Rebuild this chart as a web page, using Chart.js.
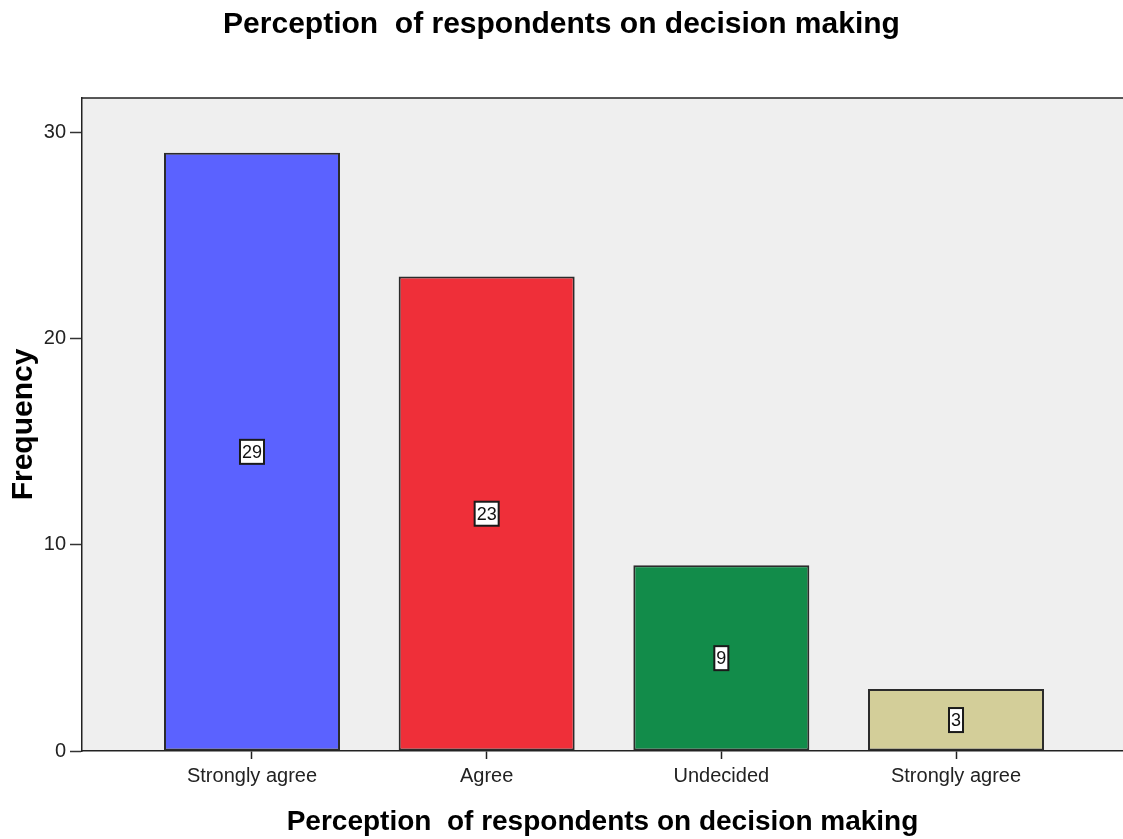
<!DOCTYPE html>
<html>
<head>
<meta charset="utf-8">
<script src="https://cdn.jsdelivr.net/npm/chart.js@4"></script>
<style>
  html, body { margin: 0; padding: 0; background: #ffffff; overflow: hidden; }
  #wrap { width: 1123px; height: 839px; position: relative; }
</style>
</head>
<body>
<div id="wrap"><canvas id="chart" width="1123" height="839"></canvas></div>
<script>
// Responses per perception category
const categories = ["Strongly agree", "Agree", "Undecided", "Strongly agree"];
const frequencies = [29, 23, 9, 3];
const barColors = ["#5b62ff", "#ef2f39", "#128c4a", "#d3ce99"];
const yTicks = [0, 10, 20, 30];

const FONT = "'Liberation Sans', Arial, sans-serif";

// Grey plotting panel with a frame line along the top
const panelPlugin = {
  id: "panel",
  beforeDraw(chart) {
    const { ctx, chartArea: a } = chart;
    ctx.save();
    ctx.fillStyle = "#efefef";
    ctx.fillRect(a.left, a.top, a.right - a.left, a.bottom - a.top);
    ctx.strokeStyle = "#222";
    ctx.lineWidth = 1.5;
    ctx.beginPath();
    ctx.moveTo(a.left, a.top);
    ctx.lineTo(a.right, a.top);
    ctx.stroke();
    ctx.restore();
  }
};

// Boxed count labels in the middle of each bar
const countLabels = {
  id: "countLabels",
  afterDatasetsDraw(chart) {
    const { ctx } = chart;
    const meta = chart.getDatasetMeta(0);
    const yScale = chart.scales.y;
    ctx.save();
    ctx.font = "18px " + FONT;
    ctx.textAlign = "center";
    ctx.textBaseline = "middle";
    meta.data.forEach((bar, i) => {
      const v = frequencies[i];
      const text = String(v);
      const cx = bar.x;
      const cy = yScale.getPixelForValue(v / 2);
      const w = ctx.measureText(text).width + 4;
      const h = 24;
      ctx.fillStyle = "#ffffff";
      ctx.fillRect(cx - w / 2, cy - h / 2, w, h);
      ctx.strokeStyle = "#1a1a1a";
      ctx.lineWidth = 2;
      ctx.strokeRect(cx - w / 2, cy - h / 2, w, h);
      ctx.fillStyle = "#111";
      ctx.fillText(text, cx, cy + 1);
    });
    ctx.restore();
  }
};

new Chart(document.getElementById("chart"), {
  type: "bar",
  data: {
    datasets: [{
      data: categories.map((c, i) => ({ x: i, y: frequencies[i] })),
      backgroundColor: barColors,
      borderColor: "#2b2b2b",
      borderWidth: 2,
      borderSkipped: false,
      barPercentage: 0.75,
      categoryPercentage: 1.0
    }]
  },
  options: {
    responsive: false,
    animation: false,
    devicePixelRatio: 1,
    layout: { padding: { left: 0, right: 0, top: 0, bottom: 0 } },
    plugins: {
      legend: { display: false },
      tooltip: { enabled: false },
      title: {
        display: true,
        text: "Perception  of respondents on decision making",
        color: "#000",
        font: { family: FONT, size: 30, weight: "bold" },
        padding: { top: 7, bottom: 55 }
      }
    },
    scales: {
      x: {
        type: "linear",
        offset: false,
        min: -0.7244,
        max: 3.7116,
        afterFit(scale) { scale.height = 88; },
        afterBuildTicks(scale) { scale.ticks = categories.map((c, i) => ({ value: i })); },
        ticks: {
          color: "#222",
          font: { family: FONT, size: 20 },
          padding: 5,
          maxRotation: 0,
          autoSkip: false,
          callback: (v) => categories[v]
        },
        grid: {
          offset: false,
          drawOnChartArea: false,
          drawTicks: true,
          tickLength: 8,
          tickColor: "#222",
          tickWidth: 1.5
        },
        border: { display: true, color: "#222", width: 1.5 },
        title: {
          display: true,
          text: "Perception  of respondents on decision making",
          color: "#000",
          font: { family: FONT, size: 28, weight: "bold" },
          padding: { top: 0, bottom: 0 }
        }
      },
      y: {
        min: 0,
        max: 31.65,
        afterFit(scale) { scale.width = 82; },
        afterBuildTicks(scale) { scale.ticks = yTicks.map(v => ({ value: v })); },
        ticks: {
          color: "#222",
          font: { family: FONT, size: 20 },
          padding: 4
        },
        grid: {
          drawOnChartArea: false,
          drawTicks: true,
          tickLength: 12,
          tickColor: "#333",
          tickWidth: 1.5
        },
        border: { display: true, color: "#222", width: 1.5 },
        title: {
          display: true,
          text: "Frequency",
          color: "#000",
          font: { family: FONT, size: 30, weight: "bold" },
          padding: { top: 6, bottom: 0 }
        }
      }
    }
  },
  plugins: [panelPlugin, countLabels]
});
</script>
</body>
</html>
